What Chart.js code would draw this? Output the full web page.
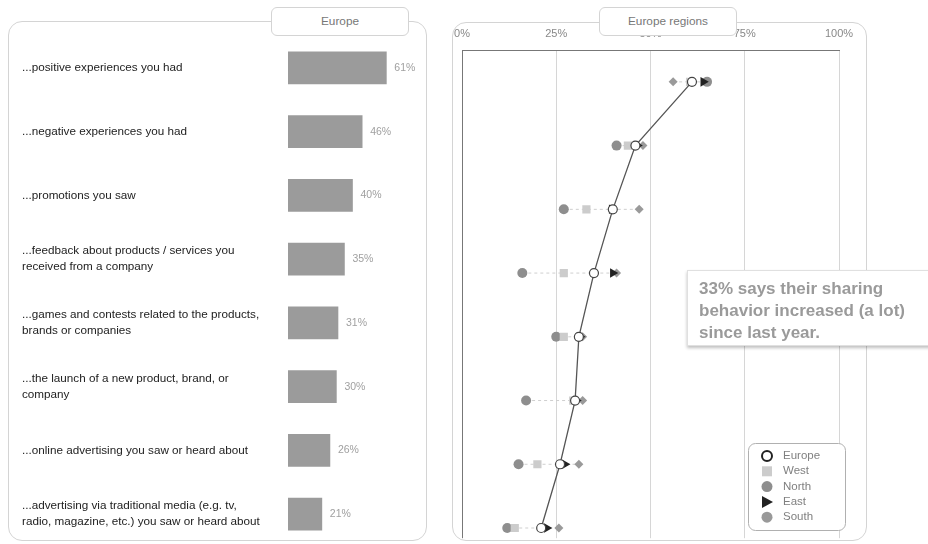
<!DOCTYPE html>
<html lang="en">
<head>
<meta charset="UTF-8">
<title>Sharing behaviour - Europe</title>
<script src="https://cdn.jsdelivr.net/npm/chart.js"></script>
<style>
    body { margin: 0; width: 928px; height: 544px; overflow: hidden; background: #fff;
           position: relative; font-family: "Liberation Sans", Arial, sans-serif; }
    .panel { position: absolute; border: 1px solid #d4d4d4; border-radius: 14px; background: #fff; }
    .tab { position: absolute; background: #fff; border: 1px solid #d4d4d4; border-radius: 6px;
           font-size: 11.8px; color: #777; text-align: center; line-height: 27px; z-index: 5; }
    .note { position: absolute; left: 687px; top: 270px; width: 245px; height: 76px; background: #fff;
            border: 1px solid #e0e0e0; box-shadow: 0 2px 3px rgba(0,0,0,0.25); z-index: 6;
            font-weight: bold; font-size: 17px; line-height: 22px; color: #9a9a9a;
            padding: 7px 0 0 11px; box-sizing: border-box; white-space: nowrap; }
    canvas { position: absolute; }
</style>
</head>
<body>
    <div class="panel" style="left:8px; top:21px; width:417px; height:518px;"></div>
    <div class="panel" style="left:452px; top:22px; width:413px; height:517px;"></div>
    <div class="tab" style="left:271px; top:7px; width:136px; height:27px;">Europe</div>
    <div class="tab" style="left:599px; top:7px; width:136px; height:27px;">Europe regions</div>

    <canvas id="barChart" width="409" height="510" style="left:8px; top:36px;"></canvas>
    <canvas id="regionChart" width="440" height="544" style="left:440px; top:0px;"></canvas>

    <div class="note">33% says their sharing<br>behavior increased (a lot)<br>since last year.</div>

    <script>
        // categories (left labels)
        const categories = [
            '...positive experiences you had',
            '...negative experiences you had',
            '...promotions you saw',
            ['...feedback about products / services you', 'received from a company'],
            ['...games and contests related to the products,', 'brands or companies'],
            ['...the launch of a new product, brand, or', 'company'],
            '...online advertising you saw or heard about',
            ['...advertising via traditional media (e.g. tv,', 'radio, magazine, etc.) you saw or heard about']
        ];

        // series values in %
        const europe = [61, 46, 40, 35, 31, 30, 26, 21];
        const west   = [60.5, 44, 33, 27, 27, 29.5, 20, 14];
        const north  = [65, 41, 27, 16, 25, 17, 15, 12];
        const east   = [64, 46.5, 39.7, 40, 31.3, 30.3, 27.3, 22.5];
        const south  = [56, 48, 47, 41, 32, 32, 31, 25.7];

        const xTicks = [0, 25, 50, 75, 100];

        // ---- left: horizontal bars ----
        const barLabels = {
            id: 'barLabels',
            afterDatasetsDraw(chart) {
                const ctx = chart.ctx;
                ctx.save();
                ctx.font = '10.5px "Liberation Sans", Arial, sans-serif';
                ctx.fillStyle = '#a0a0a0';
                ctx.textBaseline = 'middle';
                chart.getDatasetMeta(0).data.forEach((bar, i) => {
                    ctx.fillText(europe[i] + '%', bar.x + 8, bar.y);
                });
                ctx.restore();
            }
        };

        new Chart(document.getElementById('barChart'), {
            type: 'bar',
            data: {
                labels: categories,
                datasets: [{
                    data: europe,
                    backgroundColor: '#9b9b9b',
                    barThickness: 32
                }]
            },
            options: {
                indexAxis: 'y',
                responsive: false,
                animation: false,
                layout: { padding: { left: 14, right: 0, top: 0, bottom: 0 } },
                plugins: { legend: { display: false }, tooltip: { enabled: false } },
                scales: {
                    x: { display: false, min: 0, max: 80 },
                    y: {
                        grid: { display: false },
                        border: { display: false },
                        ticks: {
                            crossAlign: 'far',
                            color: '#222',
                            font: { family: '"Liberation Sans", Arial, sans-serif', size: 11.7, lineHeight: 1.35 }
                        },
                        afterFit(scale) {
                            scale.width = 266;
                            scale.paddingTop = 0;
                            scale.paddingBottom = 0;
                        }
                    }
                }
            },
            plugins: [barLabels]
        });

        // ---- right: regions dot plot ----
        const rows = europe.map((v, i) => i + 1);
        const pts = arr => arr.map((v, i) => ({ x: v, y: rows[i] }));

        const rangeSets = rows.map((r, i) => {
            const vals = [europe[i], west[i], north[i], east[i], south[i]];
            return {
                data: [{ x: Math.min(...vals), y: r }, { x: Math.max(...vals), y: r }],
                showLine: true,
                borderColor: '#cfcfcf',
                borderWidth: 1,
                borderDash: [3, 3],
                pointRadius: 0,
                order: 10
            };
        });

        const legendItems = [
            { text: 'Europe', style: 'ring', color: '#222' },
            { text: 'West', style: 'rect', color: '#cccccc' },
            { text: 'North', style: 'circle', color: '#8e8e8e' },
            { text: 'East', style: 'triangle', color: '#222' },
            { text: 'South', style: 'circle', color: '#999' }
        ];

        function roundRect(ctx, x, y, w, h, r) {
            ctx.beginPath();
            ctx.moveTo(x + r, y);
            ctx.arcTo(x + w, y, x + w, y + h, r);
            ctx.arcTo(x + w, y + h, x, y + h, r);
            ctx.arcTo(x, y + h, x, y, r);
            ctx.arcTo(x, y, x + w, y, r);
            ctx.closePath();
        }

        const boxLegend = {
            id: 'boxLegend',
            afterDraw(chart) {
                const ctx = chart.ctx;
                const left = 748 - 440, top = 443;
                ctx.save();
                roundRect(ctx, left + 0.5, top + 0.5, 97, 87, 7);
                ctx.fillStyle = '#fff';
                ctx.fill();
                ctx.strokeStyle = '#b0b0b0';
                ctx.lineWidth = 1;
                ctx.stroke();
                ctx.font = '11.5px "Liberation Sans", Arial, sans-serif';
                ctx.textBaseline = 'middle';
                legendItems.forEach((it, i) => {
                    const cx = left + 19, cy = top + 13 + i * 15.3;
                    ctx.fillStyle = it.color;
                    ctx.strokeStyle = it.color;
                    if (it.style === 'ring') {
                        ctx.beginPath(); ctx.arc(cx, cy, 5, 0, Math.PI * 2);
                        ctx.lineWidth = 2; ctx.stroke();
                    } else if (it.style === 'rect') {
                        ctx.fillRect(cx - 5, cy - 5, 10, 10);
                    } else if (it.style === 'circle') {
                        ctx.beginPath(); ctx.arc(cx, cy, 5.5, 0, Math.PI * 2); ctx.fill();
                    } else {
                        ctx.beginPath(); ctx.moveTo(cx - 5, cy - 6); ctx.lineTo(cx + 6, cy);
                        ctx.lineTo(cx - 5, cy + 6); ctx.closePath(); ctx.fill();
                    }
                    ctx.fillStyle = '#808080';
                    ctx.fillText(it.text, left + 35, cy);
                });
                ctx.restore();
            }
        };

        new Chart(document.getElementById('regionChart'), {
            type: 'scatter',
            data: {
                datasets: [
                    ...rangeSets,
                    { label: 'North', data: pts(north), pointStyle: 'circle', pointRadius: 5,
                      backgroundColor: '#8e8e8e', borderWidth: 0, order: 7 },
                    { label: 'West', data: pts(west), pointStyle: 'rect', pointRadius: 5.8,
                      backgroundColor: '#cccccc', borderWidth: 0, order: 6 },
                    { label: 'South', data: pts(south), pointStyle: 'rectRot', pointRadius: 4.5,
                      backgroundColor: '#9a9a9a', borderWidth: 0, order: 5 },
                    { label: 'East', data: pts(east), pointStyle: 'triangle', rotation: 90, pointRadius: 5.5,
                      backgroundColor: '#222', borderWidth: 0, order: 4 },
                    { label: 'Europe', data: pts(europe), showLine: true, tension: 0,
                      borderColor: '#555', borderWidth: 1.3,
                      pointStyle: 'circle', pointRadius: 4.5, pointBackgroundColor: '#fff',
                      pointBorderColor: '#444', pointBorderWidth: 1.2, order: 1 }
                ]
            },
            options: {
                responsive: false,
                animation: false,
                layout: { padding: { left: 22, right: 41, top: 0, bottom: 4 } },
                plugins: { legend: { display: false }, tooltip: { enabled: false } },
                scales: {
                    x: {
                        position: 'top',
                        min: 0, max: 100,
                        afterBuildTicks(scale) { scale.ticks = xTicks.map(v => ({ value: v })); },
                        ticks: {
                            padding: 9,
                            color: '#888',
                            font: { family: '"Liberation Sans", Arial, sans-serif', size: 11 },
                            callback: v => v + '%'
                        },
                        grid: {
                            drawTicks: false,
                            color: c => (c.tick && c.tick.value === 0) ? '#777' : '#d6d6d6'
                        },
                        border: { color: '#777' },
                        afterFit(scale) { scale.height = 50; }
                    },
                    y: { type: 'linear', display: false, min: 0.5, max: 8.16, reverse: true }
                }
            },
            plugins: [boxLegend]
        });
    </script>
</body>
</html>
